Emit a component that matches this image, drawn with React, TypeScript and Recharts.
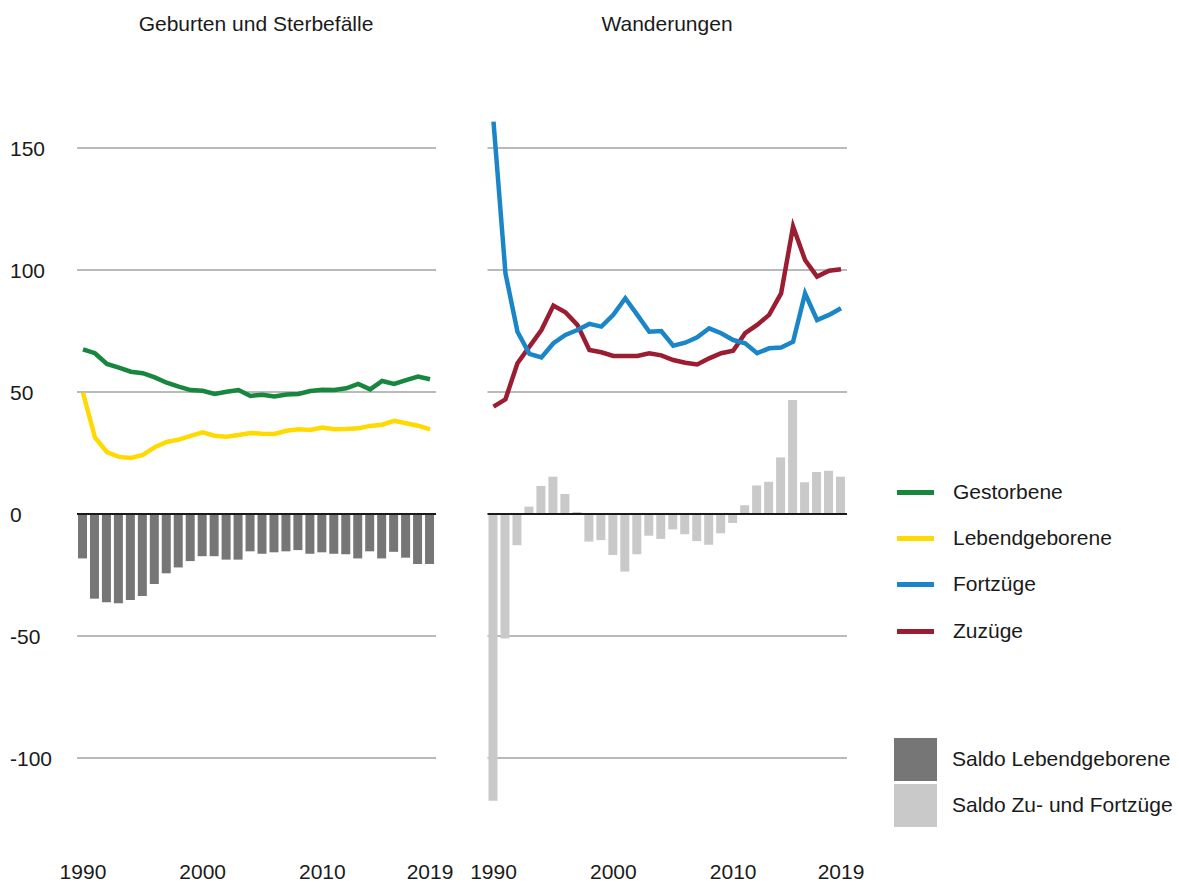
import React from 'react'
import {
  ComposedChart, Bar, Line, XAxis, YAxis, CartesianGrid, ReferenceLine,
} from 'recharts'

// ── Data ─────────────────────────────────────────────────────────────────────

const YEARS = [
  '1990', '1991', '1992', '1993', '1994', '1995', '1996', '1997', '1998', '1999',
  '2000', '2001', '2002', '2003', '2004', '2005', '2006', '2007', '2008', '2009',
  '2010', '2011', '2012', '2013', '2014', '2015', '2016', '2017', '2018', '2019',
]
const X_LABELS = ['1990', '2000', '2010', '2019']
const Y_TICKS = [-100, -50, 0, 50, 100, 150]
const GRID_VALUES = [-100, -50, 50, 100, 150]

const GESTORBENE = [67.5, 65.9, 61.5, 60, 58.3, 57.7, 56, 53.8, 52.2, 50.8, 50.5, 49.2, 50.1, 50.8, 48.4, 48.9, 48.2, 49.0, 49.2, 50.4, 50.9, 50.8, 51.5, 53.3, 51.1, 54.5, 53.3, 54.9, 56.3, 55.2]
const LEBENDGEBORENE = [49.7, 31.4, 25.4, 23.4, 23, 24.2, 27.4, 29.5, 30.5, 32, 33.5, 32.1, 31.7, 32.4, 33.2, 32.9, 32.8, 34.1, 34.7, 34.4, 35.4, 34.7, 34.8, 35.1, 36.1, 36.6, 38.2, 37.2, 36.2, 34.7]
const SALDO_GEB = [-18.2, -34.7, -36.2, -36.6, -35.2, -33.6, -28.7, -24.3, -21.9, -19.3, -17.3, -17.3, -18.7, -18.7, -15.3, -16.3, -15.7, -15.3, -14.8, -16.3, -15.7, -16.3, -16.5, -18.2, -15.3, -18.2, -15.5, -17.9, -20.5, -20.5]

const FORTZUEGE = [160.8, 98.6, 74.7, 65.6, 64.2, 70, 73.4, 75.4, 77.9, 76.8, 81.6, 88.4, 81.6, 74.7, 75, 69, 70.2, 72.4, 76.1, 74.1, 71.3, 70, 65.9, 67.9, 68.2, 70.6, 90.4, 79.5, 81.6, 84.3]
const ZUZUEGE = [44, 47, 61.8, 68.6, 75.4, 85.4, 82.7, 77.5, 67.2, 66.3, 64.8, 64.8, 64.8, 65.9, 65, 63.1, 62, 61.3, 63.8, 65.9, 66.9, 74.1, 77.5, 81.6, 90.4, 117.8, 104.1, 97.3, 99.7, 100.3]
const SALDO_WAND = [-117.5, -51, -12.8, 3.0, 11.5, 15.3, 8.2, 0.8, -11.3, -10.7, -16.8, -23.6, -16.5, -8.9, -10.2, -6.3, -8.3, -11.1, -12.6, -7.9, -3.7, 3.6, 11.7, 13.2, 23.2, 46.7, 13, 17.2, 17.7, 15.3]

// ── Styles ───────────────────────────────────────────────────────────────────

const FONT = '"Liberation Sans", Arial, sans-serif'
const FS = 21
const TEXT = '#1a1a1a'
const C_GREEN = '#17873f'
const C_YELLOW = '#ffda00'
const C_BLUE = '#1a86c8'
const C_RED = '#9b1d32'
const C_DARK = '#767676'
const C_LIGHT = '#c9c9c9'
const C_GRID = '#a3a3a3'
const DOMAIN: [number, number] = [-140, 175]

const geburten = YEARS.map((year, i) => ({
  year, gest: GESTORBENE[i], leb: LEBENDGEBORENE[i], saldo: SALDO_GEB[i],
}))
const wanderungen = YEARS.map((year, i) => ({
  year, fort: FORTZUEGE[i], zu: ZUZUEGE[i], saldo: SALDO_WAND[i],
}))

function XTick({ x, payload }: any) {
  if (!X_LABELS.includes(payload.value)) return null
  return (
    <text x={x} y={871} textAnchor="middle" dominantBaseline="central"
      style={{ fontSize: FS, fontFamily: FONT, fill: TEXT }}>
      {payload.value}
    </text>
  )
}

function YTick({ y, payload }: any) {
  return (
    <text x={10} y={y} textAnchor="start" dominantBaseline="central"
      style={{ fontSize: FS, fontFamily: FONT, fill: TEXT }}>
      {payload.value}
    </text>
  )
}

function LegendLine({ color, label, y }: { color: string; label: string; y: number }) {
  return (
    <>
      <div style={{ position: 'absolute', left: 897, top: y - 2.5, width: 37, height: 5, background: color }} />
      <div style={{ position: 'absolute', left: 953, top: y - 12.5, lineHeight: '24px', fontSize: FS, color: TEXT }}>{label}</div>
    </>
  )
}

function LegendBox({ color, label, top }: { color: string; label: string; top: number }) {
  return (
    <>
      <div style={{ position: 'absolute', left: 894, top, width: 43, height: 43, background: color }} />
      <div style={{ position: 'absolute', left: 952, top: top + 8.5, lineHeight: '24px', fontSize: FS, color: TEXT }}>{label}</div>
    </>
  )
}

export default function App() {
  return (
    <div style={{ position: 'absolute', left: 0, top: 0, width: 1178, height: 886, background: '#fff', fontFamily: FONT }}>
      <div style={{ position: 'absolute', left: 56, width: 400, top: 12, lineHeight: '24px', fontSize: FS, color: TEXT, textAlign: 'center' }}>
        Geburten und Sterbefälle
      </div>
      <div style={{ position: 'absolute', left: 467, width: 400, top: 12, lineHeight: '24px', fontSize: FS, color: TEXT, textAlign: 'center' }}>
        Wanderungen
      </div>

      {/* left panel */}
      <div style={{ position: 'absolute', left: 0, top: 0 }}>
        <ComposedChart width={470} height={886} data={geburten}
          margin={{ top: 87, right: 34, bottom: 0, left: 0 }} barSize={9}>
          <CartesianGrid vertical={false} horizontalValues={GRID_VALUES} stroke={C_GRID} strokeWidth={1.3} />
          <XAxis dataKey="year" height={30.4} axisLine={false} tickLine={false} interval={0} tick={<XTick />} />
          <YAxis width={77} domain={DOMAIN} ticks={Y_TICKS} axisLine={false} tickLine={false} tick={<YTick />} allowDataOverflow />
          <Bar dataKey="saldo" fill={C_DARK} isAnimationActive={false} />
          <ReferenceLine y={0} stroke="#1a1a1a" strokeWidth={2} />
          <Line type="linear" dataKey="leb" stroke={C_YELLOW} strokeWidth={4.5} dot={false} isAnimationActive={false} />
          <Line type="linear" dataKey="gest" stroke={C_GREEN} strokeWidth={4.5} dot={false} isAnimationActive={false} />
        </ComposedChart>
      </div>

      {/* right panel */}
      <div style={{ position: 'absolute', left: 440, top: 0 }}>
        <ComposedChart width={440} height={886} data={wanderungen}
          margin={{ top: 87, right: 33, bottom: 0, left: 47.5 }} barSize={9}>
          <CartesianGrid vertical={false} horizontalValues={GRID_VALUES} stroke={C_GRID} strokeWidth={1.3} />
          <XAxis dataKey="year" height={30.4} axisLine={false} tickLine={false} interval={0} tick={<XTick />} />
          <YAxis hide domain={DOMAIN} ticks={Y_TICKS} allowDataOverflow />
          <Bar dataKey="saldo" fill={C_LIGHT} isAnimationActive={false} />
          <ReferenceLine y={0} stroke="#1a1a1a" strokeWidth={2} />
          <Line type="linear" dataKey="zu" stroke={C_RED} strokeWidth={4.5} dot={false} isAnimationActive={false} />
          <Line type="linear" dataKey="fort" stroke={C_BLUE} strokeWidth={4.5} dot={false} isAnimationActive={false} />
        </ComposedChart>
      </div>

      {/* legend */}
      <LegendLine color={C_GREEN} label="Gestorbene" y={492} />
      <LegendLine color={C_YELLOW} label="Lebendgeborene" y={538} />
      <LegendLine color={C_BLUE} label="Fortzüge" y={584} />
      <LegendLine color={C_RED} label="Zuzüge" y={631} />
      <LegendBox color={C_DARK} label="Saldo Lebendgeborene" top={738} />
      <LegendBox color={C_LIGHT} label="Saldo Zu- und Fortzüge" top={784} />
    </div>
  )
}
